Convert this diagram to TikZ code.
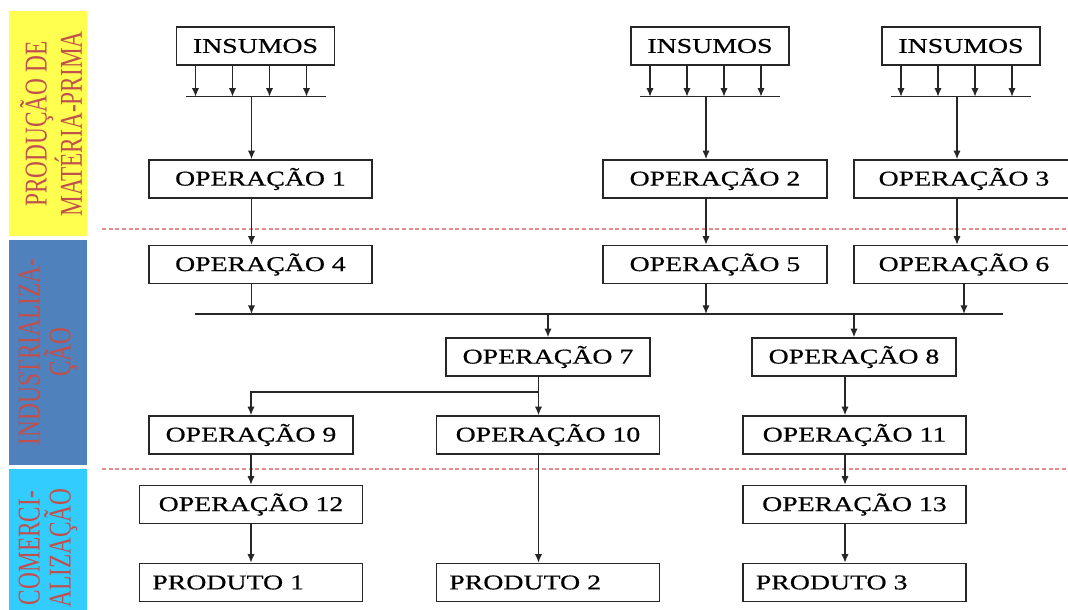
\documentclass[tikz,border=0pt]{standalone}
\usepackage{fontspec}
\usepackage{tikz}
\usetikzlibrary{arrows.meta}
\newfontfamily\boxfont{Liberation Serif}[FakeStretch=1.32,FakeBold=0.6]
\newfontfamily\sidefont{Liberation Serif}[FakeStretch=0.735]
\definecolor{sidered}{RGB}{192,80,77}
\definecolor{sideyellow}{RGB}{255,255,80}
\definecolor{sideblue}{RGB}{79,129,189}
\definecolor{sidecyan}{RGB}{51,204,255}
\definecolor{sepred}{RGB}{228,140,140}
\tikzset{
	box/.style={draw=black!85,line width=1.1pt,minimum width=#1,minimum height=28.5pt,inner sep=0pt,font=\boxfont\fontsize{15.8}{18}\selectfont},
	box/.default=167.5pt,
	prod/.style={box,text width=148pt,inner xsep=9.75pt,align=left},
	arr/.style={draw=black!85,line width=1.1pt,-{Latex[length=6.5pt,width=5.5pt]}},
	ln/.style={draw=black!85,line width=1.1pt},
	side/.style={rotate=90,align=center,text=sidered,font=\sidefont\fontsize{23.8}{23.3}\selectfont},
	sep/.style={sepred,line width=0.8pt,dash pattern=on 3pt off 2pt}
}
\begin{document}
\begin{tikzpicture}[x=0.75pt,y=-0.75pt]
	\clip (0,0) rectangle (1068,610);
	\fill[sideyellow] (9,11) rectangle (87,236);
	\fill[sideblue] (9,240) rectangle (87,465);
	\fill[sidecyan] (9,469) rectangle (87,610);
	\node[side] (s1) at (51,124) {PRODUÇÃO DE\\MATÉRIA-PRIMA};
	\node[side] (s2) at (48,352) {INDUSTRIALIZA-\\ÇÃO};
	\node[side] (s3) at (48,548) {COMERCI-\\ALIZAÇÃO};
	\draw[sep] (102,229) -- (1068,229);
	\draw[sep] (102,469) -- (1068,469);

	\node[box=118.5pt] (ins1) at (255.5,46) {INSUMOS};
	\node[box=118.5pt] (ins2) at (710,46) {INSUMOS};
	\node[box=118.5pt] (ins3) at (961,46) {INSUMOS};
	\node[box] (op1) at (260.5,179) {OPERAÇÃO 1};
	\node[box=168pt] (op2) at (715,179) {OPERAÇÃO 2};
	\node[box=165pt] (op3) at (964,179) {OPERAÇÃO 3};
	\node[box] (op4) at (260.5,264.5) {OPERAÇÃO 4};
	\node[box=168pt] (op5) at (715,264.5) {OPERAÇÃO 5};
	\node[box=165pt] (op6) at (964,264.5) {OPERAÇÃO 6};
	\node[box=153pt] (op7) at (548,357) {OPERAÇÃO 7};
	\node[box=153pt] (op8) at (854,357) {OPERAÇÃO 8};
	\node[box=153pt] (op9) at (251,435) {OPERAÇÃO 9};
	\node[box=167pt] (op10) at (548,435) {OPERAÇÃO 10};
	\node[box=167pt] (op11) at (854.5,435) {OPERAÇÃO 11};
	\node[box] (op12) at (251,504.5) {OPERAÇÃO 12};
	\node[box] (op13) at (854.5,504.5) {OPERAÇÃO 13};
	\node[prod] (p1) at (251,582.5) {PRODUTO 1};
	\node[prod] (p2) at (548,582.5) {PRODUTO 2};
	\node[prod] (p3) at (854.5,582.5) {PRODUTO 3};

	\foreach \n in {ins1,ins2,ins3} {
		\foreach \dx in {-60,-23,14,51}
			\draw[arr] (\n.south) ++(\dx,0) -- ++(0,31);
		\draw[ln] (\n.south) ++(-70,31) -- ++(140,0);
		\path (\n.south) ++(-4,31) coordinate (j\n);
	}
	\draw[arr] (jins1) -- (jins1 |- op1.north);
	\draw[arr] (jins2) -- (jins2 |- op2.north);
	\draw[arr] (jins3) -- (jins3 |- op3.north);
	\draw[arr] (jins1 |- op1.south) -- (jins1 |- op4.north);
	\draw[arr] (jins2 |- op2.south) -- (jins2 |- op5.north);
	\draw[arr] (jins3 |- op3.south) -- (jins3 |- op6.north);

	\coordinate (busl) at (195,314);
	\coordinate (busr) at (1003,314);
	\draw[ln] (busl) -- (busr);
	\draw[arr] (jins1 |- op4.south) -- (jins1 |- busl);
	\draw[arr] (jins2 |- op5.south) -- (jins2 |- busl);
	\draw[arr] (op6.south) -- (op6.south |- busl);
	\draw[arr] (op7.north |- busl) -- (op7.north);
	\draw[arr] (op8.north |- busl) -- (op8.north);

	\coordinate (k7) at (538.5,392);
	\path (op8.south) ++(-9,0) coordinate (k8);
	\draw[ln] (op7.south -| k7) -- (k7);
	\draw[arr] (k7) -- (k7 |- op10.north);
	\draw[arr] (k7) -| (op9.north);
	\draw[arr] (k8) -- (k8 |- op11.north);
	\draw[arr] (op9) -- (op12);
	\draw[arr] (op12) -- (p1);
	\draw[arr] (k7 |- op10.south) -- (k7 |- p2.north);
	\draw[arr] (k8 |- op11.south) -- (k8 |- op13.north);
	\draw[arr] (k8 |- op13.south) -- (k8 |- p3.north);
\end{tikzpicture}
\end{document}
